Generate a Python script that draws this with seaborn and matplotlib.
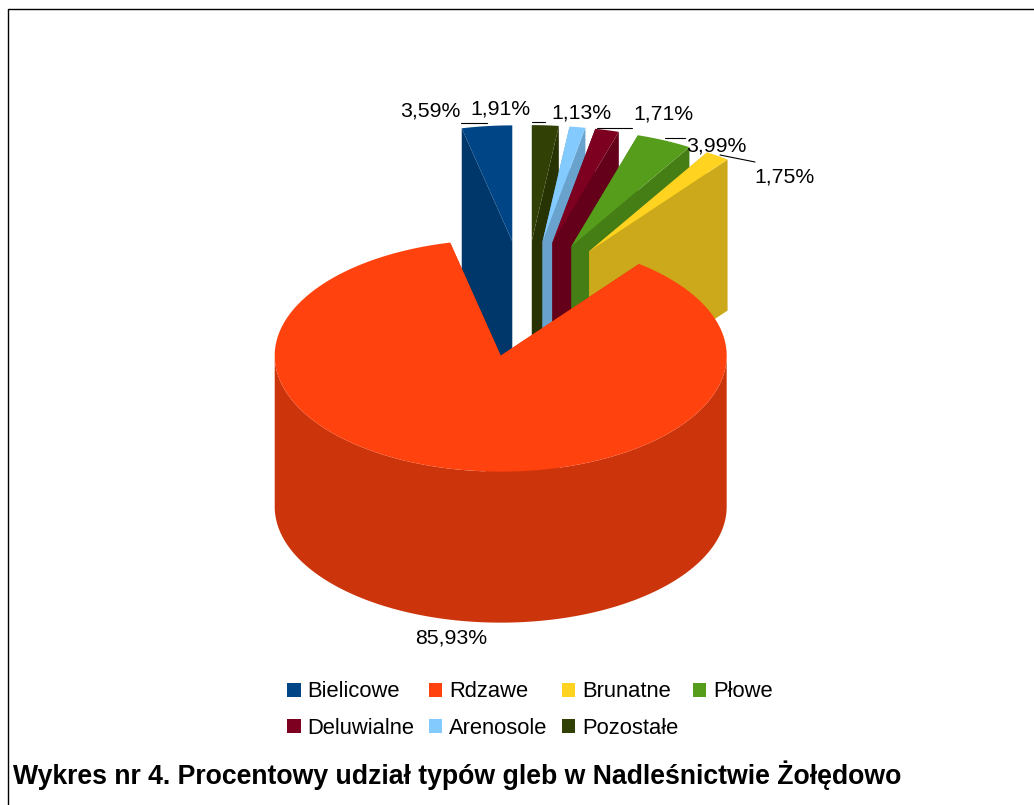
import numpy as np
import seaborn as sns
import matplotlib.pyplot as plt
from matplotlib.patches import Polygon, Patch

sns.set_theme(style="white")
plt.rcParams['font.family'] = ['Liberation Sans', 'DejaVu Sans']

# data
types = ["Bielicowe", "Rdzawe", "Brunatne", "Płowe", "Deluwialne", "Arenosole", "Pozostałe"]
shares = [3.59, 85.93, 1.75, 3.99, 1.71, 1.13, 1.91]
colors = ["#004586", "#ff420e", "#ffd320", "#579d1c", "#7e0021", "#83caff", "#314004"]
share_labels = ["3,59%", "85,93%", "1,75%", "3,99%", "1,71%", "1,13%", "1,91%"]
title = "Wykres nr 4. Procentowy udział typów gleb w Nadleśnictwie Żołędowo"

# pie layout in pixels
cx, cy = 525, 299
rx, ry = 226, 116
depth = 151
explode = 0.5
SHADE = 0.8

# label anchor points (centre of text) and leader lines
label_pos = [(430, 111), (451, 638), (785, 177), (716, 146), (663, 114), (581, 113), (500, 109)]
leaders = [((461, 123.5), (487, 123.5)), ((532, 122.5), (545, 122.5)), ((597, 128), (632, 128)),
           ((665, 138), (685, 138)), ((720, 155), (755, 162))]

palette = sns.color_palette(colors)


def shade(c, k=SHADE):
    return tuple(v * k for v in c)


fig = plt.figure(figsize=(10.34, 8.05), dpi=100)
ax = fig.add_axes([0, 0, 1, 1])
ax.set_xlim(0, 1034)
ax.set_ylim(805, 0)
ax.axis("off")

# frame of the sheet, the right side is cut off
ax.plot([8, 8, 1034], [805, 9.5, 9.5], color="black", lw=1)

# work out the slice angles, counterclockwise from twelve o'clock
sweeps = np.array(shares) / sum(shares) * 2 * np.pi
starts = np.pi / 2 + np.concatenate([[0], np.cumsum(sweeps)[:-1]])

slices = []
for i in range(len(shares)):
    a0 = starts[i]
    a1 = a0 + sweeps[i]
    mid = (a0 + a1) / 2
    slices.append((cy - explode * ry * np.sin(mid), i, a0, a1, mid))

# back to front
for _, i, a0, a1, mid in sorted(slices):
    ox = cx + explode * rx * np.cos(mid)
    oy = cy - explode * ry * np.sin(mid)
    t = np.linspace(a0, a1, 200)
    xs = ox + rx * np.cos(t)
    ys = oy - ry * np.sin(t)
    c = palette[i]
    z = 2 + (oy + 1000) / 10000
    # cut faces
    for a in (a0, a1):
        ex, ey = ox + rx * np.cos(a), oy - ry * np.sin(a)
        ax.add_patch(Polygon([(ox, oy), (ex, ey), (ex, ey + depth), (ox, oy + depth)],
                             closed=True, fc=shade(c), ec="none", zorder=z))
    # front of the rim
    front = np.sin(t) < 0
    if front.any():
        fx, fy = xs[front], ys[front]
        ax.fill(np.r_[fx, fx[::-1]], np.r_[fy, fy[::-1] + depth], color=shade(c), lw=0, zorder=z)
    ax.add_patch(Polygon(np.c_[np.r_[ox, xs], np.r_[oy, ys]], closed=True, fc=c, ec="none", zorder=z))

for (x0, y0), (x1, y1) in leaders:
    ax.plot([x0, x1], [y0, y1], color="black", lw=0.8, zorder=3)

for lab, (x, y) in zip(share_labels, label_pos):
    ax.text(x, y, lab, fontsize=15.3, color="black", ha="center", va="center", zorder=4)

# legend fills row by row in the reference
handles = [Patch(fc=c, ec="none") for c in palette]
order = [0, 4, 1, 5, 2, 6, 3]
ax.legend([handles[i] for i in order], [types[i] for i in order], ncol=4, frameon=False,
          fontsize=15.8, labelcolor="black", handlelength=0.6, handleheight=0.6, handletextpad=0.32,
          columnspacing=0.66, labelspacing=0.72, loc="upper left",
          bbox_to_anchor=(283 / 1034, 1 - 677 / 805), borderpad=0.2, borderaxespad=0)

ax.text(13, 775, title, fontsize=19.2, fontweight="bold", color="black", ha="left", va="center")

fig.savefig("out.png", dpi=100)
